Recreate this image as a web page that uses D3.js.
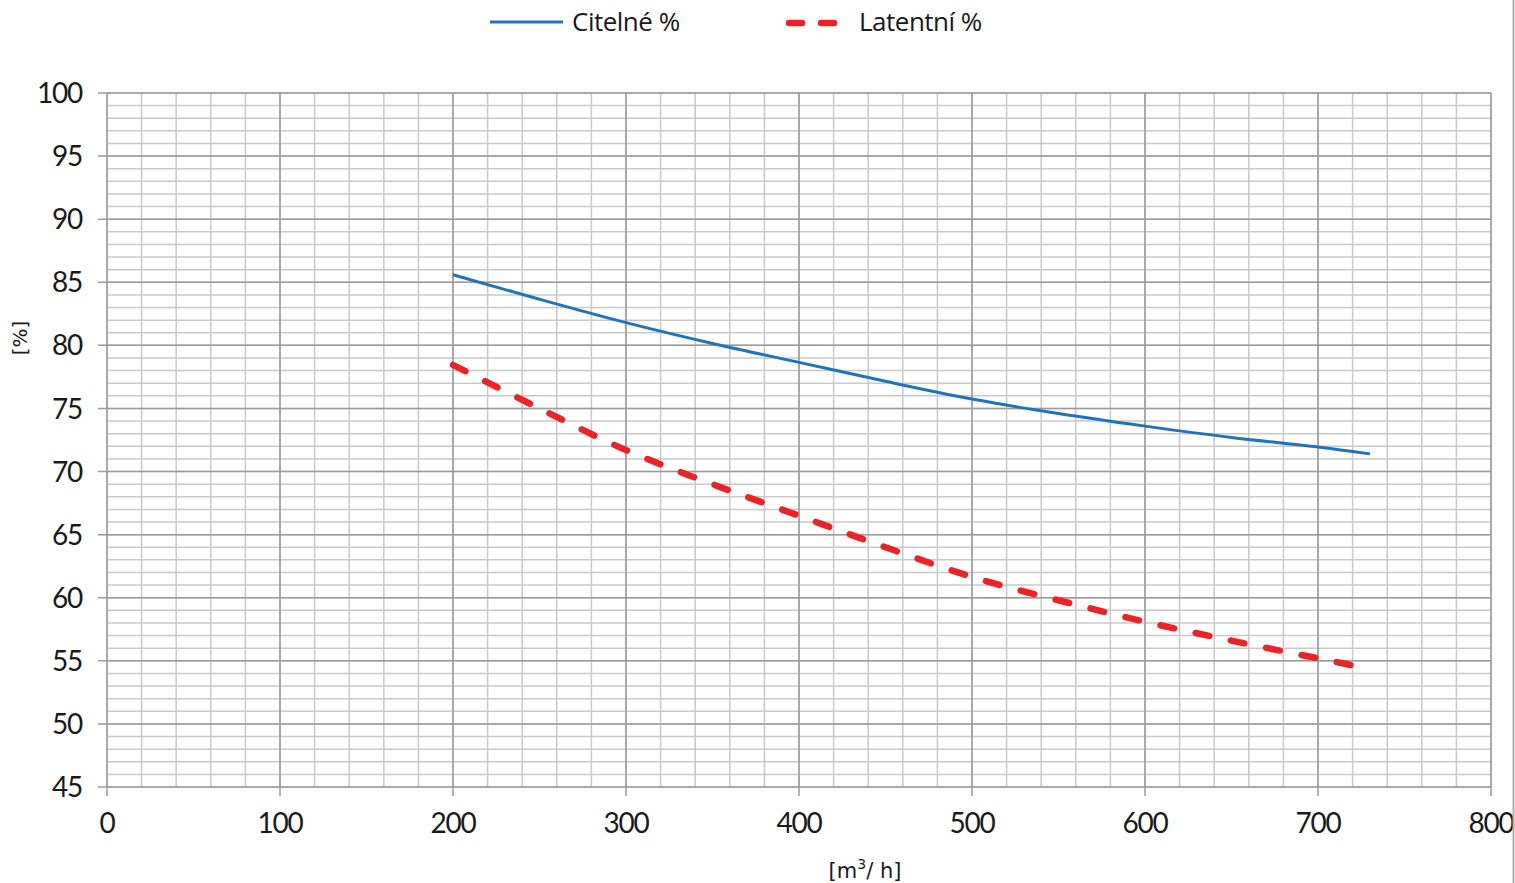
<!DOCTYPE html>
<html><head><meta charset="utf-8">
<script src="https://cdn.jsdelivr.net/npm/d3@7"></script>
<style>body{margin:0;background:#fff}svg{display:block}</style>
</head><body><svg id="c" width="1515" height="883"></svg>
<script>
const xs = [200, 250, 300, 350, 400, 450, 500, 550, 600, 650, 700, 730];
const citelne = [85.6, 83.65, 81.8, 80.15, 78.65, 77.15, 75.75, 74.6, 73.6, 72.7, 71.95, 71.4];
const latentni = [78.45, 75.0, 71.7, 69.0, 66.5, 64.0, 61.65, 59.8, 58.1, 56.6, 55.2, 54.35];
const xTicks = [0, 100, 200, 300, 400, 500, 600, 700, 800];
const yTicks = [45, 50, 55, 60, 65, 70, 75, 80, 85, 90, 95, 100];
const seriesNames = ["Citelné %", "Latentní %"];

const svg = d3.select("#c");
const L = 107, R = 1491, T = 93, B = 787;
const x = d3.scaleLinear().domain([0, 800]).range([L, R]);
const y = d3.scaleLinear().domain([45, 100]).range([B, T]);
const g = svg.append("g");

g.selectAll(".mx").data(d3.range(0, 801, 20)).join("line")
  .attr("x1", d => x(d)).attr("x2", d => x(d)).attr("y1", T).attr("y2", B)
  .attr("stroke", "#c9c9c9").attr("stroke-width", 1.5);
g.selectAll(".my").data(d3.range(45, 100.5, 1)).join("line")
  .attr("y1", d => y(d)).attr("y2", d => y(d)).attr("x1", L).attr("x2", R)
  .attr("stroke", "#c9c9c9").attr("stroke-width", 1.5);
g.selectAll(".Mx").data(xTicks).join("line")
  .attr("x1", d => x(d)).attr("x2", d => x(d)).attr("y1", T).attr("y2", B + 9)
  .attr("stroke", "#9a9a9a").attr("stroke-width", 1.5);
g.selectAll(".My").data(yTicks).join("line")
  .attr("y1", d => y(d)).attr("y2", d => y(d)).attr("x1", L - 9).attr("x2", R)
  .attr("stroke", "#9a9a9a").attr("stroke-width", 1.5);

const font = "Lato,sans-serif";
g.selectAll(".yl").data(yTicks).join("text")
  .attr("x", 82).attr("y", d => y(d)).attr("dy", "0.36em").attr("text-anchor", "end")
  .attr("font-family", font).attr("font-weight", 400).attr("font-size", 28)
  .attr("letter-spacing", -1.2).attr("fill", "#1a1a1a").text(d => d);
g.selectAll(".xl").data(xTicks).join("text")
  .attr("x", d => x(d)).attr("y", 833).attr("text-anchor", "middle")
  .attr("font-family", font).attr("font-weight", 400).attr("font-size", 28)
  .attr("letter-spacing", -1.2).attr("fill", "#1a1a1a").text(d => d);

svg.append("text").attr("transform", "translate(27,338) rotate(-90)").attr("text-anchor", "middle")
  .attr("font-family", "'DejaVu Sans',sans-serif").attr("font-size", 20).attr("fill", "#1a1a1a").text("[%]");
const xt = svg.append("text").attr("x", 865).attr("y", 878).attr("text-anchor", "middle")
  .attr("font-family", "'DejaVu Sans',sans-serif").attr("font-size", 21).attr("fill", "#1a1a1a");
xt.append("tspan").text("[m");
xt.append("tspan").attr("dy", -9).attr("font-size", 14).text("3");
xt.append("tspan").attr("dy", 9).text("/ h]");

svg.append("line").attr("x1", 1513.5).attr("x2", 1513.5).attr("y1", 0).attr("y2", 883)
  .attr("stroke", "#b0b0b0").attr("stroke-width", 2);

const line = d3.line().x((d, i) => x(xs[i])).y(d => y(d)).curve(d3.curveCatmullRom.alpha(0.5));
svg.append("path").attr("d", line(citelne)).attr("fill", "none")
  .attr("stroke", "#1f73be").attr("stroke-width", 3);
svg.append("path").attr("d", line(latentni)).attr("fill", "none")
  .attr("stroke", "#ec2227").attr("stroke-width", 6.5).attr("stroke-dasharray", "14,22")
  .attr("stroke-linecap", "round");

const lf = "'Open Sans','Noto Sans',sans-serif";
svg.append("line").attr("x1", 490).attr("x2", 563).attr("y1", 22).attr("y2", 22)
  .attr("stroke", "#1f73be").attr("stroke-width", 3);
svg.append("text").attr("x", 572).attr("y", 31).attr("font-family", lf).attr("font-size", 26)
  .attr("letter-spacing", -0.5).attr("fill", "#1a1a1a").text(seriesNames[0]);
svg.append("line").attr("x1", 789).attr("x2", 845).attr("y1", 23).attr("y2", 23)
  .attr("stroke", "#ec2227").attr("stroke-width", 6.5).attr("stroke-dasharray", "13,19")
  .attr("stroke-linecap", "round");
svg.append("text").attr("x", 859).attr("y", 31).attr("font-family", lf).attr("font-size", 26)
  .attr("letter-spacing", -0.5).attr("fill", "#1a1a1a").text(seriesNames[1]);
</script></body></html>
